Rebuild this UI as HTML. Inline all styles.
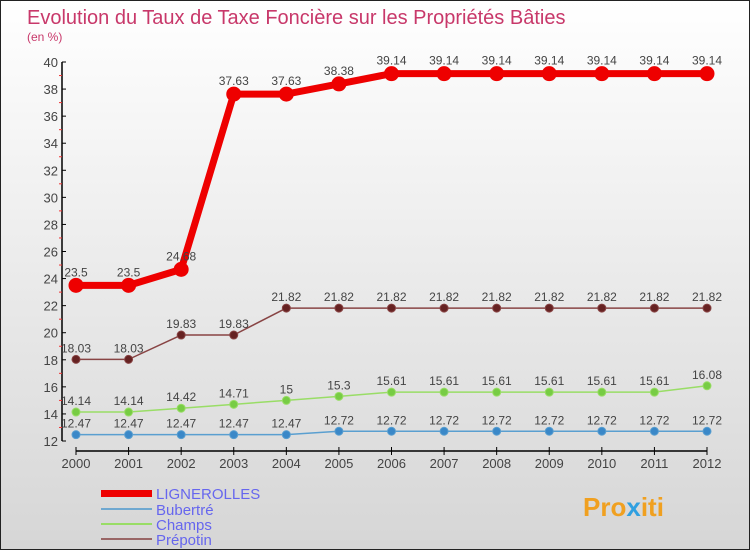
<!DOCTYPE html>
<html><head><meta charset="utf-8"><style>
body{margin:0}
#c{width:750px;height:550px;position:relative;background:linear-gradient(#ffffff,#d6d6d6);box-sizing:border-box;border:1px solid #222;font-family:"Liberation Sans",sans-serif;overflow:hidden}
svg text{font-family:"Liberation Sans",sans-serif}
</style></head><body>
<div id="c">
<svg id="s" width="750" height="550" style="position:absolute;left:0;top:0">
<text x="26" y="23" font-size="20" fill="#c8386a">Evolution du Taux de Taxe Foncière sur les Propriétés Bâties</text>
<text x="26" y="40" font-size="12" fill="#c8386a">(en %)</text>
<g id="ax"></g><g id="ser"></g>
<g>
<rect x="100" y="489" width="51" height="7" fill="#e00"/>
<text x="155" y="498" font-size="15" fill="#6666ee">LIGNEROLLES</text>
<rect x="100" y="507" width="51" height="2" fill="#6fa8d0"/>
<text x="155" y="514" font-size="15" fill="#6666ee">Bubertré</text>
<rect x="100" y="522" width="51" height="2" fill="#99dd66"/>
<text x="155" y="529" font-size="15" fill="#6666ee">Champs</text>
<rect x="100" y="537" width="51" height="2" fill="#996666"/>
<text x="155" y="544" font-size="15" fill="#6666ee">Prépotin</text>
</g>
<text x="582" y="515" font-size="26" font-weight="bold" fill="#f0a020">Pro<tspan fill="#30a0e0">x</tspan>iti</text>
</svg>
</div>
<script>
const years=[2000,2001,2002,2003,2004,2005,2006,2007,2008,2009,2010,2011,2012];
const lignerolles=[23.5,23.5,24.68,37.63,37.63,38.38,39.14,39.14,39.14,39.14,39.14,39.14,39.14];
const bubertre=[12.47,12.47,12.47,12.47,12.47,12.72,12.72,12.72,12.72,12.72,12.72,12.72,12.72];
const champs=[14.14,14.14,14.42,14.71,15,15.3,15.61,15.61,15.61,15.61,15.61,15.61,16.08];
const prepotin=[18.03,18.03,19.83,19.83,21.82,21.82,21.82,21.82,21.82,21.82,21.82,21.82,21.82];
const yTicks=[12,14,16,18,20,22,24,26,28,30,32,34,36,38,40];
const NS="http://www.w3.org/2000/svg";
const xS=i=>75+i*(706-75)/(years.length-1);
const yS=v=>440-(v-12)*(440-61)/(40-12);
function mk(t,a,p){const e=document.createElementNS(NS,t);for(const k in a)e.setAttribute(k,a[k]);p.appendChild(e);return e;}
const ax=document.getElementById('ax');
let e=mk('line',{x1:61,y1:yS(40),x2:61,y2:yS(12),stroke:'#000','stroke-width':1.5},ax);


e=mk('line',{x1:75,y1:450,x2:706,y2:450,stroke:'#000','stroke-width':1.5},ax);


yTicks.forEach((v,i)=>{
 mk('line',{x1:61,y1:yS(v),x2:65,y2:yS(v),stroke:'#000'},ax);
 if(i<yTicks.length-1)mk('line',{x1:58,y1:yS(v+1),x2:61,y2:yS(v+1),stroke:'#e33'},ax);
 const t=mk('text',{x:57,y:yS(v)+5,'font-size':13,fill:'#444','text-anchor':'end'},ax);t.textContent=v;
 
 
});
years.forEach((y,i)=>{
 mk('line',{x1:xS(i),y1:446,x2:xS(i),y2:454,stroke:'#000'},ax);
 const t=mk('text',{x:xS(i),y:467,'font-size':13,fill:'#444','text-anchor':'middle'},ax);t.textContent=y;
 
 
});
const ser=document.getElementById('ser');
function draw(vals,color,w,r,name,fill){
 const g=mk('g',{},ser);
 
 
 const pl=mk('polyline',{points:vals.map((v,i)=>xS(i)+','+yS(v)).join(' '),fill:'none',stroke:color,'stroke-width':w,'stroke-linejoin':'round'},g);
 
 
 vals.forEach((v,i)=>{
  const c=mk('circle',{cx:xS(i),cy:yS(v),r:r,fill:fill,stroke:color,'stroke-width':1},g);
  
  
  const t=mk('text',{x:xS(i),y:yS(v)-(w>3?9:7),'font-size':12,fill:'#444','text-anchor':'middle'},g);
  t.textContent=v;
  
  
 });
}
draw(bubertre,'#5a9fd0',1.5,4,'bubertre','#3a88c8');
draw(champs,'#99dd66',1.5,4,'champs','#77cc44');
draw(prepotin,'#884444',1.5,4,'prepotin','#662222');
draw(lignerolles,'#ee0000',7,7,'lignerolles','#ee0000');
</script>
</body></html>
